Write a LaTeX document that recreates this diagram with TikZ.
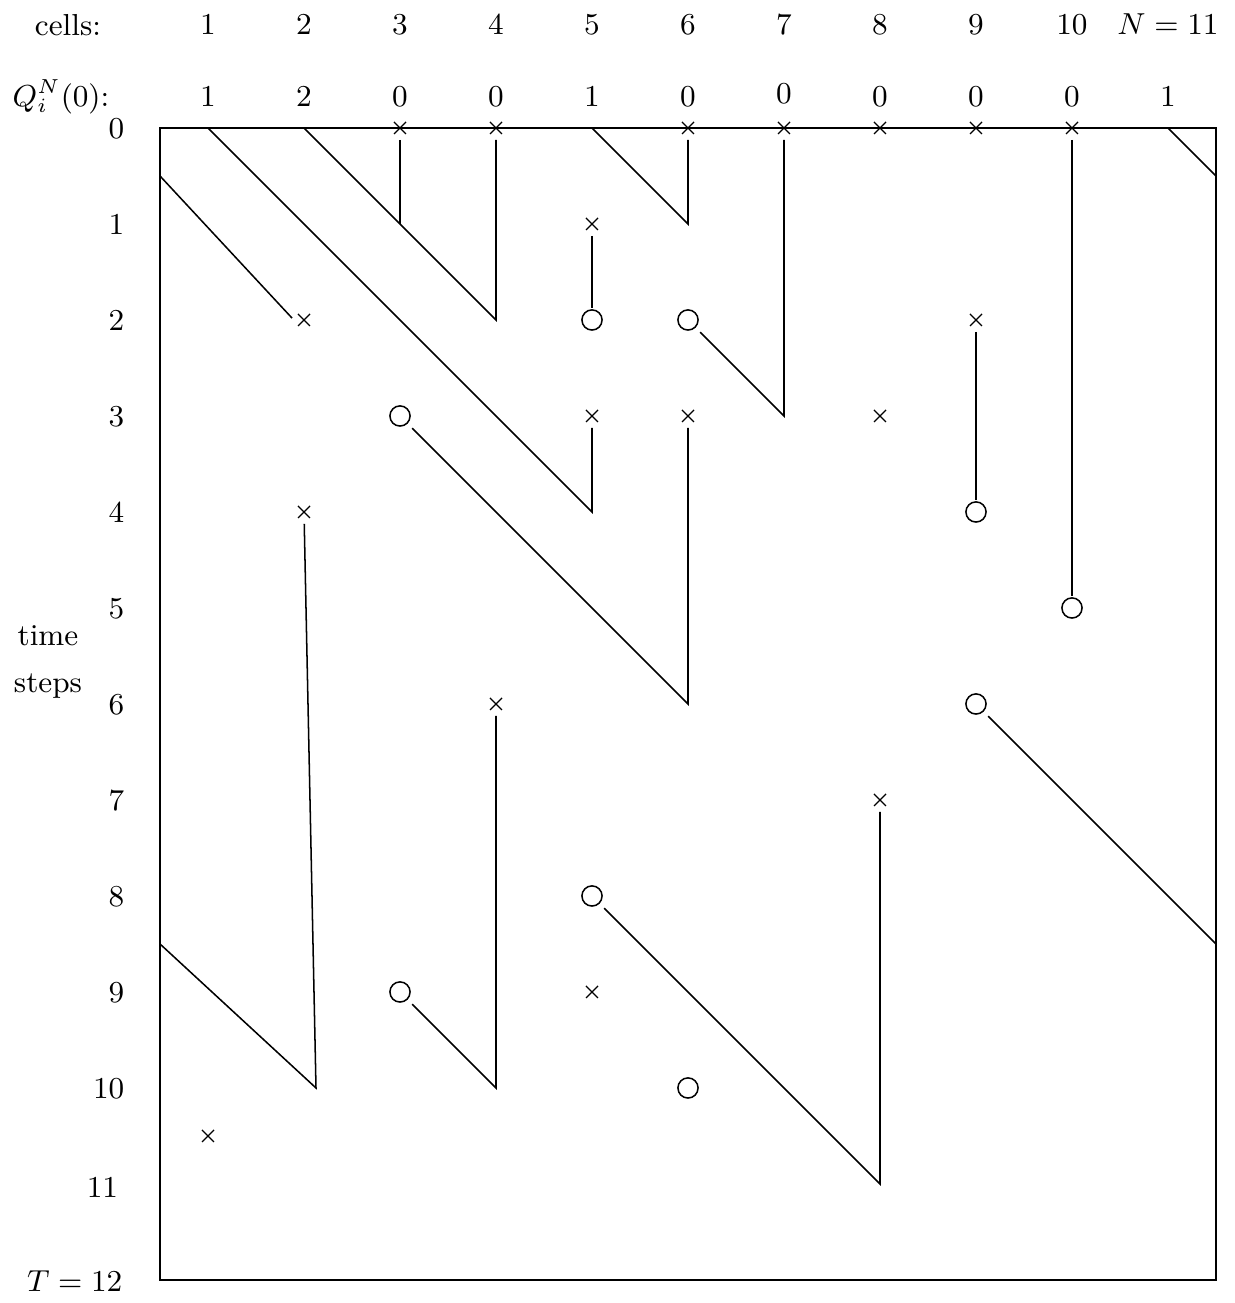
\documentclass[tikz,border=0pt]{standalone}
\usetikzlibrary{shapes.misc}
\begin{document}
\begin{tikzpicture}[x=1cm,y=1cm,
  font=\fontsize{9}{11}\selectfont,
  xmark/.style={cross out, draw, line width=0.4pt, minimum size=0.125cm, inner sep=0pt, outer sep=0pt},
  omark/.style={circle, draw, line width=0.45pt, minimum size=0.21cm, inner sep=0pt, outer sep=0pt},
  track/.style={line width=0.45pt},
  fromx/.style={shorten <=0.125cm},
  tox/.style={shorten >=0.125cm},
  fromo/.style={shorten <=0.18cm},
  too/.style={shorten >=0.125cm},
  frame/.style={line width=0.5pt},
  toplab/.style={anchor=base, inner sep=0pt},
  timelab/.style={anchor=base east, inner sep=0pt}]

\useasboundingbox (-1.1667,1.3333) rectangle (11.698,-12.24);

% space-time frame: cells 1..11 along x, time 0..12 downwards
\draw[frame] (0.5,0) rectangle (11.5,-12);

% column headings
\node[inner sep=0pt] (cellslab) at (-0.458,1.073) {cells:};
\foreach \c in {1,...,10} \node[toplab] (c\c) at (\c,0.969) {$\c$};
\node[toplab] (cN) at (11,0.969) {$N = 11$};
\node[inner sep=0pt] (qlab) at (-0.531,0.323) {$Q_i^N(0)$:};
\foreach \c/\q in {1/1,2/2,3/0,4/0,5/1,6/0,8/0,9/0,10/0,11/1}
  \node[toplab] (q\c) at (\c,0.219) {$\q$};
\node[toplab] (q7) at (7,0.25) {$0$};

% time axis
\foreach \t in {0,...,10} \node[timelab] (t\t) at (0.135,-\t-0.105) {$\t$};
\node[timelab] (t11) at (0.07,-11.145) {$11$};
\node[timelab] (tT) at (0.115,-12.125) {$T = 12$};
\node[inner sep=0pt] (timew) at (-0.667,-5.29) {time};
\node[inner sep=0pt] (stepsw) at (-0.667,-5.81) {steps};

% events: crosses and circles
\foreach \c in {3,4,6,7,8,9,10} \node[xmark] (x\c t0) at (\c,0) {};
\node[xmark] (x5t1) at (5,-1) {};
\node[xmark] (x2t2) at (2,-2) {};
\node[xmark] (x9t2) at (9,-2) {};
\node[xmark] (x5t3) at (5,-3) {};
\node[xmark] (x6t3) at (6,-3) {};
\node[xmark] (x8t3) at (8,-3) {};
\node[xmark] (x2t4) at (2,-4) {};
\node[xmark] (x4t6) at (4,-6) {};
\node[xmark] (x8t7) at (8,-7) {};
\node[xmark] (x5t9) at (5,-9) {};
\node[xmark] (x1t10) at (1,-10.5) {};

\node[omark] (o5t2) at (5,-2) {};
\node[omark] (o6t2) at (6,-2) {};
\node[omark] (o3t3) at (3,-3) {};
\node[omark] (o9t4) at (9,-4) {};
\node[omark] (o10t5) at (10,-5) {};
\node[omark] (o9t6) at (9,-6) {};
\node[omark] (o5t8) at (5,-8) {};
\node[omark] (o3t9) at (3,-9) {};
\node[omark] (o6t10) at (6,-10) {};

% turning points and frame crossings
\coordinate (s1) at (1,0);
\coordinate (s2) at (2,0);
\coordinate (s5) at (5,0);
\coordinate (s11) at (11,0);
\coordinate (r1) at (11.5,-0.5);
\coordinate (l1) at (0.5,-0.5);
\coordinate (r2) at (11.5,-8.5);
\coordinate (l2) at (0.5,-8.5);
\coordinate (k3) at (3,-1);
\coordinate (k4) at (4,-2);
\coordinate (k5) at (5,-4);
\coordinate (k6a) at (6,-1);
\coordinate (k7) at (7,-3);
\coordinate (k6b) at (6,-6);
\coordinate (k2) at (2.125,-10);
\coordinate (k4b) at (4,-10);
\coordinate (k8) at (8,-11);

% trajectories
\draw[track] (s11) -- (r1);
\draw[track] (l1) -- ([shift={(-0.125,0.02)}]x2t2.center);
\draw[track,tox] (s1) -- (k5) -- (x5t3.center);
\draw[track,tox] (s2) -- (k4) -- (x4t0.center);
\draw[track,fromx] (x3t0.center) -- (k3);
\draw[track,tox] (s5) -- (k6a) -- (x6t0.center);
\draw[track,fromx,too] (x5t1.center) -- (o5t2.center);
\draw[track,fromo,tox] (o6t2.center) -- (k7) -- (x7t0.center);
\draw[track,fromx,too] (x9t2.center) -- (o9t4.center);
\draw[track,fromo,tox] (o3t3.center) -- (k6b) -- (x6t3.center);
\draw[track,fromx,too] (x10t0.center) -- (o10t5.center);
\draw[track,fromo] (o9t6.center) -- (r2);
\draw[track,tox] (l2) -- (k2) -- (x2t4.center);
\draw[track,fromo,tox] (o3t9.center) -- (k4b) -- (x4t6.center);
\draw[track,fromo,tox] (o5t8.center) -- (k8) -- (x8t7.center);
\end{tikzpicture}
\end{document}
